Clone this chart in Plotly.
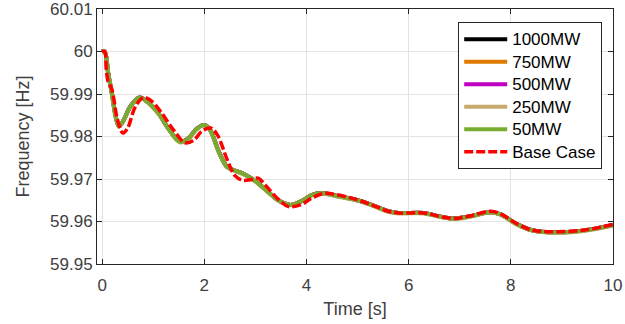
import plotly.graph_objects as go

# Time [s] and frequency [Hz] samples
t_case = [0, 0.05, 0.12, 0.19, 0.27, 0.33, 0.42, 0.55, 0.73, 0.9, 1.1, 1.3, 1.53, 1.7, 1.85, 2.0,
          2.1, 2.3, 2.45, 2.6, 2.8, 3.0, 3.2, 3.45, 3.69, 3.9, 4.1, 4.3, 4.6, 5.0, 5.3, 5.6, 5.8,
          6.3, 6.6, 6.9, 7.2, 7.6, 7.8, 8.1, 8.4, 8.6, 9.2, 9.6, 10.0]
f_1000 = [60, 60, 59.9948, 59.9902, 59.9845, 59.9824, 59.9838, 59.9870, 59.9892, 59.9880, 59.9855,
          59.9818, 59.9787, 59.9797, 59.9818, 59.9827, 59.9818, 59.9760, 59.9728, 59.9720, 59.9710,
          59.9695, 59.9675, 59.9650, 59.9639, 59.9648, 59.9662, 59.9667, 59.9660, 59.9650, 59.9638,
          59.9624, 59.9620, 59.9620, 59.9612, 59.9607, 59.9612, 59.9622, 59.9617, 59.9595, 59.9580,
          59.9576, 59.9576, 59.9582, 59.9592]
f_750 = list(f_1000)
f_500 = list(f_1000)
f_250 = [60, 60, 59.9947, 59.9901, 59.9844, 59.9823, 59.9837, 59.9869, 59.9891, 59.9879, 59.9854,
         59.9817, 59.9786, 59.9796, 59.9817, 59.9826, 59.9817, 59.9759, 59.9727, 59.9719, 59.9709,
         59.9694, 59.9674, 59.9649, 59.9638, 59.9647, 59.9661, 59.9666, 59.9659, 59.9649, 59.9637,
         59.9623, 59.9619, 59.9619, 59.9611, 59.9606, 59.9611, 59.9621, 59.9616, 59.9594, 59.9579,
         59.9575, 59.9575, 59.9581, 59.9591]
f_50 = list(f_1000)

t_base = [0, 0.05, 0.08, 0.12, 0.18, 0.22, 0.3, 0.41, 0.5, 0.65, 0.81, 0.95, 1.15, 1.4, 1.63, 1.8,
          1.95, 2.12, 2.25, 2.45, 2.6, 2.75, 2.9, 3.05, 3.2, 3.45, 3.65, 3.9, 4.1, 4.35, 4.6, 5.0,
          5.3, 5.6, 5.8, 6.3, 6.6, 6.9, 7.2, 7.6, 7.8, 8.1, 8.4, 8.6, 9.2, 9.6, 10.0]
f_base = [60, 60, 59.9960, 59.9928, 59.9915, 59.9895, 59.9840, 59.9808, 59.9820, 59.9870, 59.9892,
          59.9885, 59.9858, 59.9815, 59.9785, 59.9792, 59.9812, 59.9820, 59.9805, 59.9745, 59.9708,
          59.9697, 59.9698, 59.9702, 59.9685, 59.9652, 59.9635, 59.9640, 59.9655, 59.9666, 59.9663,
          59.9651, 59.9638, 59.9624, 59.9620, 59.9620, 59.9612, 59.9607, 59.9613, 59.9624, 59.9618,
          59.9596, 59.9580, 59.9577, 59.9577, 59.9583, 59.9593]

series = [
    ("1000MW", t_case, f_1000, "#000000"),
    ("750MW", t_case, f_750, "#E07B00"),
    ("500MW", t_case, f_500, "#C000C0"),
    ("250MW", t_case, f_250, "#C8AA6E"),
    ("50MW", t_case, f_50, "#77AC30"),
]

x_ticks = [0, 2, 4, 6, 8, 10]
y_ticks = [59.95, 59.96, 59.97, 59.98, 59.99, 60, 60.01]
y_tick_text = ["59.95", "59.96", "59.97", "59.98", "59.99", "60", "60.01"]

FONT = "Liberation Sans, Arial, sans-serif"


def leg(name):
    return "<span style='font-size:17px'>" + name + "</span>"


fig = go.Figure()
for name, tx, fy, col in series:
    fig.add_trace(go.Scatter(x=tx, y=fy, name=leg(name), mode="lines",
                             line=dict(color=col, width=4, shape="spline", smoothing=1.0)))
fig.add_trace(go.Scatter(x=t_base, y=f_base, name=leg("Base Case"), mode="lines",
                         line=dict(color="#FF0000", width=3.5, dash="9px,3px",
                                   shape="spline", smoothing=1.0)))

axis_common = dict(
    showline=True, linecolor="#262626", linewidth=1, mirror="ticks",
    ticks="inside", ticklen=5, tickcolor="#262626",
    showgrid=True, gridcolor="#E3E3E3", gridwidth=1, zeroline=False,
    automargin=False, ticklabeloverflow="allow",
    tickfont=dict(family=FONT, size=17, color="#404040"),
)

fig.update_layout(
    width=625, height=324,
    margin=dict(l=97, r=12, t=9, b=60, autoexpand=False),
    paper_bgcolor="white", plot_bgcolor="white",
    font=dict(family=FONT, color="#404040"),
    xaxis=dict(range=[-0.1, 10], tickvals=x_ticks, ticklabelstandoff=6,
               title=dict(text="Time [s]", font=dict(size=18, color="#404040"), standoff=7),
               **axis_common),
    yaxis=dict(range=[59.95, 60.01], tickvals=y_ticks, ticktext=y_tick_text,
               title=dict(text="Frequency [Hz]", font=dict(size=18, color="#404040"), standoff=15),
               **axis_common),
    legend=dict(x=0.70, y=0.949, xanchor="left", yanchor="top",
                bgcolor="white", bordercolor="#262626", borderwidth=1, itemwidth=43,
                font=dict(size=15, color="#000000"), tracegroupgap=0),
    showlegend=True,
)

fig.write_html("out.html")
